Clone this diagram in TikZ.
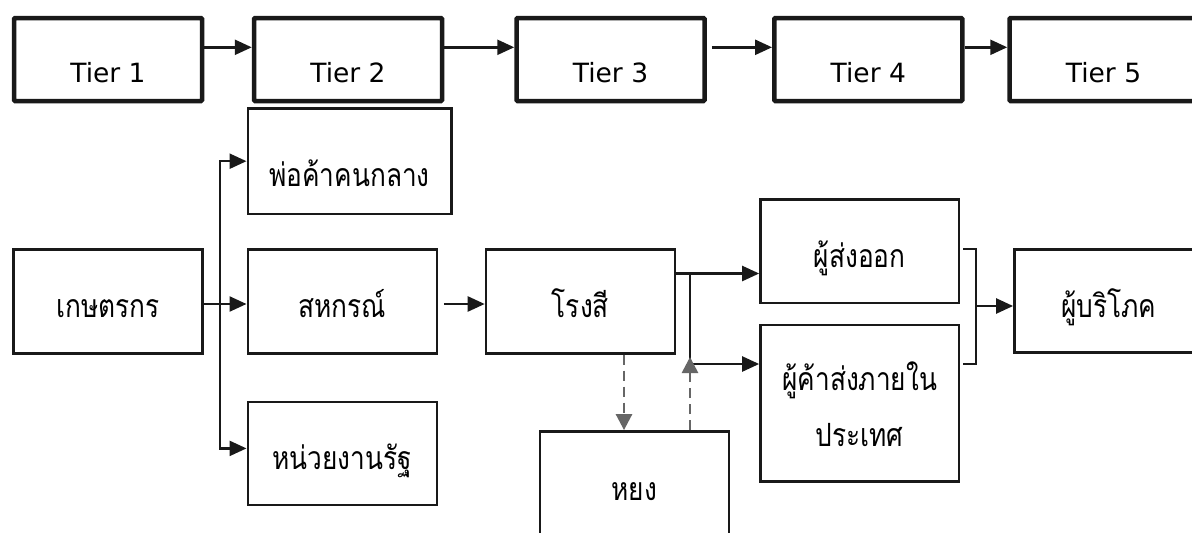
\documentclass[tikz,border=0pt]{standalone}
\usepackage{fontspec}
\setmainfont{DejaVu Sans}
\newfontfamily\thaifont[Script=Thai,FakeStretch=0.82]{Loma}
\usetikzlibrary{arrows.meta,calc}

\begin{document}
\begin{tikzpicture}[x=1pt,y=-1pt,
  % upper row: the five tiers
  tierbox/.style={draw=black!90, line width=4.5pt, rounded corners=1pt,
    minimum width=188pt, minimum height=83pt, inner sep=0pt,
    font=\fontsize{26.5}{31}\selectfont, text height=46.4pt, text depth=0pt},
  % lower rows: the actors of the chain
  actor/.style={draw=black!90, line width=2.4pt, minimum width=189pt,
    minimum height=104pt, inner sep=0pt,
    font=\thaifont\fontsize{32}{37}\selectfont, text height=33pt, text depth=0pt},
  flow/.style={draw=black!90, line width=2.4pt, -{Triangle[length=17pt,width=15pt]}},
  backflow/.style={draw=black!60, line width=2.7pt, dash pattern=on 10pt off 6pt,
    -{Triangle[length=16pt,width=16pt]}},
  brace/.style={draw=black!90, line width=2pt},
  caption/.style={font=\thaifont\fontsize{32}{37}\selectfont, inner sep=0pt, anchor=base}
]
\useasboundingbox (0,0) rectangle (1192,533);
\clip (0,0) rectangle (1192,533);
\fill[white] (0,0) rectangle (1192,533);

% tiers
\node[tierbox] (t1) at (108,59.5)    {Tier 1};
\node[tierbox] (t2) at (348,59.5)    {Tier 2};
\node[tierbox] (t3) at (610.5,59.5)  {Tier 3};
\node[tierbox] (t4) at (868.3,59.5)  {Tier 4};
\node[tierbox] (t5) at (1103.5,59.5) {Tier 5};

\draw[flow] ([yshift=12.2pt]t1.east) -- ([yshift=12.2pt]t2.west);
\draw[flow] ([yshift=12.2pt,xshift=-4pt]t2.east) -- ([yshift=12.2pt]t3.west);
\draw[flow] ([yshift=12.2pt,xshift=5pt]t3.east) -- ([yshift=12.2pt]t4.west);
\draw[flow] ([yshift=12.2pt]t4.east) -- ([yshift=12.2pt]t5.west);

% actors
\node[actor] (farmer) at (108,301.3) {เกษตรกร};
\node[actor, minimum width=203.6pt, minimum height=105.7pt, text height=51pt]
  (merchant) at (349.5,161.2) {พ่อค้าคนกลาง};
\node[actor] (coop) at (342.2,301.3) {สหกรณ์};
\node[actor, minimum height=103.3pt] (gov) at (342.2,453.4) {หน่วยงานรัฐ};
\node[actor] (mill) at (580.4,301.3) {โรงสี};
\node[actor, minimum height=110pt, text height=27.4pt] (yong) at (634.2,486.3) {หยง};
\node[actor, minimum width=198.7pt, minimum height=103.7pt] (exporter) at (859.7,251.2) {ผู้ส่งออก};
\node[actor, minimum width=198.7pt, minimum height=156.3pt] (wholesaler) at (859.7,403.2) {};
\node[caption] (ws1) at ([yshift=12.5pt]wholesaler.center) {ผู้ค้าส่งภายใน};
\node[caption] (ws2) at ([yshift=-43.5pt]wholesaler.center) {ประเทศ};
\node[actor, minimum height=103.2pt] (consumer) at (1108.8,300.9) {ผู้บริโภค};

% farmer to the three buyers
\coordinate (fork) at (220,304);
\draw[flow] (farmer.east |- fork) -- (coop.west |- fork);
\draw[flow] (fork) |- (merchant.west);
\coordinate (govin) at ([yshift=5pt]gov.west);
\draw[flow] (fork) |- (govin);

% cooperative to mill
\draw[flow] ([xshift=6pt]coop.east |- fork) -- (mill.west |- fork);

% mill to exporter and domestic wholesaler
\coordinate (split) at (690,273.5);
\draw[flow] (mill.east |- split) -- (exporter.west |- split);
\coordinate (wsin) at ([yshift=39.2pt]wholesaler.west);
\draw[flow] (split) |- (wsin);

% mill and broker exchange
\coordinate (drop) at ([xshift=43.6pt]mill.south);
\draw[backflow] (drop) -- (drop |- yong.north);
\draw[backflow] (split |- yong.north) -- ([yshift=7pt]split |- wsin);

% both sellers to the consumer
\coordinate (btop) at (963,249);
\coordinate (bbot) at (963,363.5);
\coordinate (bmid) at (976,306);
\draw[brace] (btop) -- (bmid |- btop) -- (bmid |- bbot) -- (bbot);
\draw[flow] (bmid) -- (consumer.west |- bmid);
\end{tikzpicture}
\end{document}
